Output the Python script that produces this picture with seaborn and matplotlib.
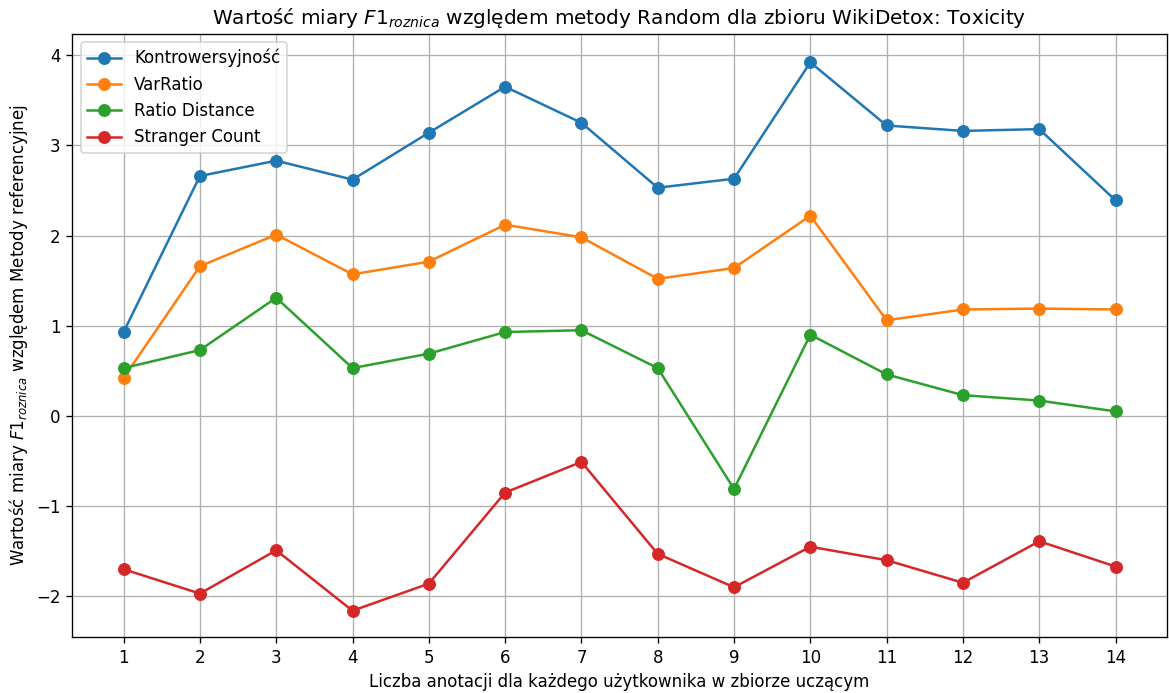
import matplotlib
matplotlib.use("Agg")
import matplotlib.pyplot as plt
import seaborn as sns
import pandas as pd

annotations = list(range(1, 15))

kontrowersyjnosc = [0.93, 2.66, 2.83, 2.62, 3.14, 3.65, 3.25, 2.53, 2.63, 3.92, 3.22, 3.16, 3.18, 2.39]
var_ratio = [0.42, 1.66, 2.01, 1.57, 1.71, 2.12, 1.98, 1.52, 1.64, 2.22, 1.06, 1.18, 1.19, 1.18]
ratio_distance = [0.53, 0.73, 1.31, 0.53, 0.69, 0.93, 0.95, 0.53, -0.81, 0.90, 0.46, 0.23, 0.17, 0.05]
stranger_count = [-1.70, -1.97, -1.49, -2.16, -1.86, -0.85, -0.51, -1.53, -1.90, -1.45, -1.60, -1.85, -1.39, -1.67]

series_names = ["Kontrowersyjność", "VarRatio", "Ratio Distance", "Stranger Count"]
series_values = [kontrowersyjnosc, var_ratio, ratio_distance, stranger_count]
colors = ["#1f77b4", "#ff7f0e", "#2ca02c", "#d62728"]

df = pd.DataFrame({
    "x": annotations * len(series_names),
    "y": [v for vals in series_values for v in vals],
    "metoda": [n for n in series_names for _ in annotations],
})

DPI = 120
plt.rcParams["font.family"] = ["DejaVu Sans"]
fig, ax = plt.subplots(figsize=(1169 / DPI, 693 / DPI), dpi=DPI)
fig.subplots_adjust(left=0.062, right=0.998, top=0.951, bottom=0.081)

sns.lineplot(data=df, x="x", y="y", hue="metoda", hue_order=series_names,
             palette=colors, marker="o", markersize=7, linewidth=1.5,
             ax=ax, legend=True)
for line in ax.lines:
    line.set_markeredgecolor(line.get_color())
    line.set_markerfacecolor(line.get_color())

ax.set_xticks(annotations)
ax.set_xlim(0.33, 14.67)
ax.set_ylim(-2.45, 4.235)
ax.grid(True, color="#b0b0b0", linewidth=0.8)
ax.set_axisbelow(True)
ax.tick_params(labelsize=10)

ax.set_title(r"Wartość miary $F1_{roznica}$ względem metody Random dla zbioru WikiDetox: Toxicity", fontsize=12)
ax.set_xlabel("Liczba anotacji dla każdego użytkownika w zbiorze uczącym", fontsize=10)
ax.set_ylabel(r"Wartość miary $F1_{roznica}$ względem Metody referencyjnej", fontsize=10)

handles, labels = ax.get_legend_handles_labels()
for h in handles:
    h.set_markeredgecolor(h.get_color())
ax.legend(handles, labels, loc="upper left", fontsize=10)

fig.savefig("out.png", dpi=DPI)
